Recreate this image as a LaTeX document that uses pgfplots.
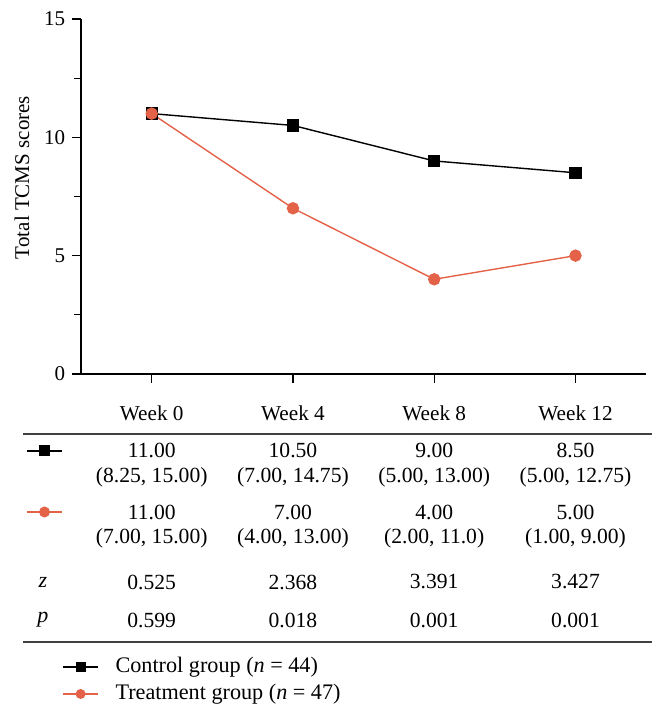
\documentclass[border=0pt]{standalone}
\usepackage{fontspec}
\setmainfont{Liberation Serif}
\usepackage{pgfplots}
\pgfplotsset{compat=1.18}
\definecolor{treat}{RGB}{228,98,72}
\begin{document}
\begin{tikzpicture}
\begin{axis}[
 scale only axis, width=282.5pt, height=177.5pt,
 xmin=-0.5, xmax=3.5, ymin=0, ymax=15,
 axis x line*=bottom, axis y line*=left,
 xtick={0,1,2,3}, xticklabels={Week 0, Week 4, Week 8, Week 12},
 ytick={0,5,10,15}, minor ytick={2.5,7.5,12.5},
 tick align=outside, major tick length=4.5pt, minor tick length=3.5pt,
 tick style={black, line width=0.6pt},
 axis line style={line width=0.6pt},
 /pgf/number format/assume math mode=true,
 yticklabel style={font=\fontsize{10.5}{12}\selectfont},
 xticklabel style={font=\fontsize{10.6}{12}\selectfont, yshift=-8pt},
 clip=false,
]
\path (axis cs:-1.074,15.80) -- (axis cs:3.642,-14.62);
\addplot[black, line width=0.7pt, mark=square*, mark size=2.75pt] coordinates {(0,11) (1,10.5) (2,9) (3,8.5)};
\addplot[treat, line width=0.7pt, mark=*, mark size=2.75pt] coordinates {(0,11) (1,7) (2,4) (3,5)};
\node[rotate=90, font=\fontsize{10.5}{12}\selectfont] at (axis cs:-0.918,8.3) {Total TCMS scores};
% table rules
\draw[line width=0.8pt, black!75] (axis cs:-0.911,-2.535) -- (axis cs:3.543,-2.535);
\draw[line width=0.8pt, black!75] (axis cs:-0.911,-11.324) -- (axis cs:3.543,-11.324);
% row markers
\draw[black, line width=0.7pt] (axis cs:-0.883,-3.253) -- (axis cs:-0.635,-3.253);
\fill[black] (axis cs:-0.759,-3.253) +(-2.75pt,-2.75pt) rectangle +(2.75pt,2.75pt);
\draw[treat, line width=0.7pt] (axis cs:-0.883,-5.831) -- (axis cs:-0.635,-5.831);
\fill[treat] (axis cs:-0.759,-5.831) circle (2.75pt);
\node[font=\itshape\fontsize{11}{12}\selectfont] at (axis cs:-0.77,-8.789) {z};
\node[font=\itshape\fontsize{11}{12}\selectfont] at (axis cs:-0.77,-10.394) {p};
\begin{scope}[every node/.style={font=\fontsize{10.8}{12}\selectfont}]
\node at (axis cs:0,-3.253) {11.00};
\node at (axis cs:1,-3.253) {10.50};
\node at (axis cs:2,-3.253) {9.00};
\node at (axis cs:3,-3.253) {8.50};
\node at (axis cs:0,-4.352) {(8.25, 15.00)};
\node at (axis cs:1,-4.352) {(7.00, 14.75)};
\node at (axis cs:2,-4.352) {(5.00, 13.00)};
\node at (axis cs:3,-4.352) {(5.00, 12.75)};
\node at (axis cs:0,-5.831) {11.00};
\node at (axis cs:1,-5.831) {7.00};
\node at (axis cs:2,-5.831) {4.00};
\node at (axis cs:3,-5.831) {5.00};
\node at (axis cs:0,-6.930) {(7.00, 15.00)};
\node at (axis cs:1,-6.930) {(4.00, 13.00)};
\node at (axis cs:2,-6.930) {(2.00, 11.0)};
\node at (axis cs:3,-6.930) {(1.00, 9.00)};
\node at (axis cs:0,-8.789) {0.525};
\node at (axis cs:1,-8.789) {2.368};
\node at (axis cs:2,-8.789) {3.391};
\node at (axis cs:3,-8.789) {3.427};
\node at (axis cs:0,-10.394) {0.599};
\node at (axis cs:1,-10.394) {0.018};
\node at (axis cs:2,-10.394) {0.001};
\node at (axis cs:3,-10.394) {0.001};
\end{scope}
% legend
\draw[black, line width=0.7pt] (axis cs:-0.628,-12.38) -- (axis cs:-0.379,-12.38);
\fill[black] (axis cs:-0.5035,-12.38) +(-2.5pt,-2.5pt) rectangle +(2.5pt,2.5pt);
\draw[treat, line width=0.7pt] (axis cs:-0.628,-13.52) -- (axis cs:-0.379,-13.52);
\fill[treat] (axis cs:-0.5035,-13.52) circle (2.5pt);
\node[anchor=west, inner sep=0pt, font=\fontsize{11.1}{12}\selectfont] at (axis cs:-0.259,-12.38) {Control group (\textit{n} = 44)};
\node[anchor=west, inner sep=0pt, font=\fontsize{11.1}{12}\selectfont] at (axis cs:-0.259,-13.52) {Treatment group (\textit{n} = 47)};
\end{axis}
\end{tikzpicture}
\end{document}
